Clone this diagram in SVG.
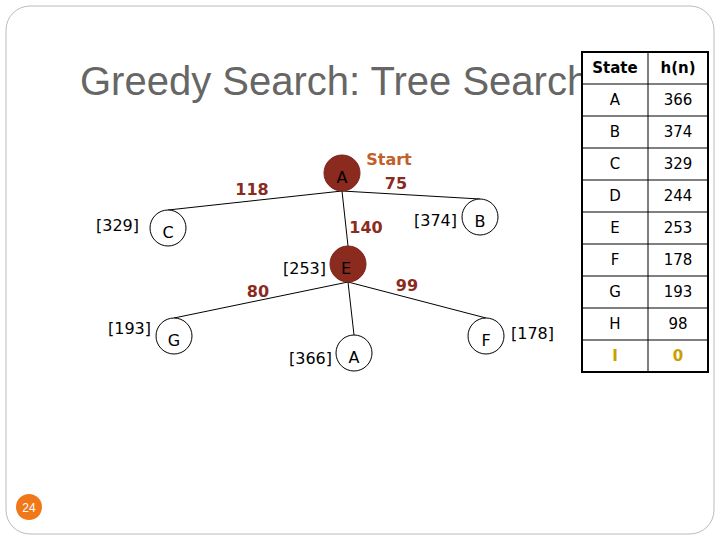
<svg xmlns="http://www.w3.org/2000/svg" width="720" height="540" viewBox="0 0 720 540">
<style>
text{font-family:Verdana,"DejaVu Sans",sans-serif}
.n{fill:#fff;stroke:#000;stroke-width:1}
.x{fill:#8b2a1e;stroke:#7a2418;stroke-width:1}
.l{font-size:16px;fill:#000;text-anchor:middle}
.h{font-size:16px;fill:#000}
.w{font-size:16px;font-weight:bold;fill:#8b2a1e;text-anchor:middle}
.t{font-size:15px;text-anchor:middle;fill:#000}
.e line{stroke:#000;stroke-width:1}
</style>
<rect x="6" y="6" width="708" height="528" rx="24" fill="#fff" stroke="#bbb"/>
<text x="80" y="95" font-size="40" fill="#666" style="font-family:'Liberation Sans',Arial,sans-serif">Greedy Search: Tree Search</text>
<g class="e">
<line x1="342" y1="191" x2="168" y2="210"/>
<line x1="342" y1="191" x2="480" y2="199"/>
<line x1="342" y1="191" x2="348" y2="246"/>
<line x1="348" y1="282" x2="174" y2="318"/>
<line x1="348" y1="282" x2="486" y2="318"/>
<line x1="348" y1="282" x2="354" y2="335"/>
</g>
<g id="A"><circle class="x" cx="342" cy="173" r="18"/><text class="l" x="342" y="183">A</text></g>
<g id="C"><circle class="n" cx="168" cy="228" r="18"/><text class="l" x="168" y="238">C</text><text class="h" x="96" y="231">[329]</text></g>
<g id="B"><circle class="n" cx="480" cy="217" r="18"/><text class="l" x="480" y="227">B</text><text class="h" x="414" y="226">[374]</text></g>
<g id="E"><circle class="x" cx="348" cy="264" r="18"/><text class="l" x="346" y="274">E</text><text class="h" x="283" y="274">[253]</text></g>
<g id="G"><circle class="n" cx="174" cy="336" r="18"/><text class="l" x="174" y="346">G</text><text class="h" x="108" y="334">[193]</text></g>
<g id="A2"><circle class="n" cx="354" cy="353" r="18"/><text class="l" x="354" y="363">A</text><text class="h" x="289" y="364">[366]</text></g>
<g id="F"><circle class="n" cx="486" cy="336" r="18"/><text class="l" x="486" y="346">F</text><text class="h" x="511" y="339">[178]</text></g>
<text class="w" x="389" y="165" style="fill:#c0602a">Start</text>
<text class="w" x="396" y="189">75</text>
<text class="w" x="252" y="195">118</text>
<text class="w" x="366" y="233">140</text>
<text class="w" x="258" y="297">80</text>
<text class="w" x="407" y="291">99</text>
<g id="table">
<rect x="582" y="52" width="126" height="320" fill="#fff" stroke="#000" stroke-width="2"/>
<g fill="none" stroke="#000">
<line x1="648" y1="52" x2="648" y2="372"/>
<line x1="582" y1="84" x2="708" y2="84"/><line x1="582" y1="116" x2="708" y2="116"/>
<line x1="582" y1="148" x2="708" y2="148"/><line x1="582" y1="180" x2="708" y2="180"/>
<line x1="582" y1="212" x2="708" y2="212"/><line x1="582" y1="244" x2="708" y2="244"/>
<line x1="582" y1="276" x2="708" y2="276"/><line x1="582" y1="308" x2="708" y2="308"/>
<line x1="582" y1="340" x2="708" y2="340"/>
</g>
<text class="t" x="615" y="73" font-weight="bold">State</text><text class="t" x="678" y="73" font-weight="bold">h(n)</text>
<text class="t" x="615" y="105">A</text><text class="t" x="678" y="105">366</text>
<text class="t" x="615" y="137">B</text><text class="t" x="678" y="137">374</text>
<text class="t" x="615" y="169">C</text><text class="t" x="678" y="169">329</text>
<text class="t" x="615" y="201">D</text><text class="t" x="678" y="201">244</text>
<text class="t" x="615" y="233">E</text><text class="t" x="678" y="233">253</text>
<text class="t" x="615" y="265">F</text><text class="t" x="678" y="265">178</text>
<text class="t" x="615" y="297">G</text><text class="t" x="678" y="297">193</text>
<text class="t" x="615" y="329">H</text><text class="t" x="678" y="329">98</text>
<text class="t" x="615" y="361" font-weight="bold" style="fill:#c8a000">I</text><text class="t" x="678" y="361" font-weight="bold" style="fill:#c8a000">0</text>
</g>
<circle cx="29" cy="507" r="13" fill="#f07818"/>
<text x="29" y="512" font-size="12" fill="#fff" text-anchor="middle" style="font-family:'Liberation Sans',Arial,sans-serif">24</text>
</svg>
